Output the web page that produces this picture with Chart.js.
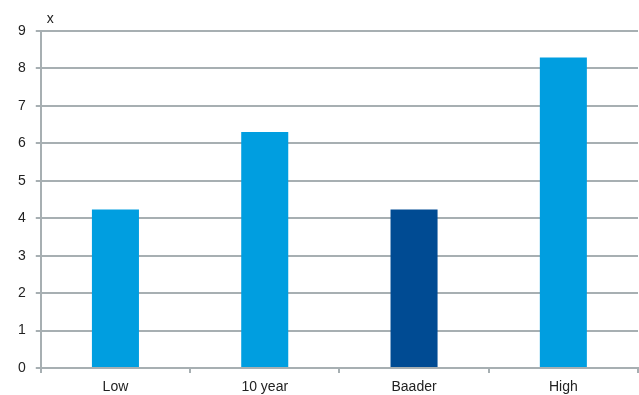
<!DOCTYPE html>
<html>
<head>
<meta charset="utf-8">
<script src="https://cdn.jsdelivr.net/npm/chart.js@4"></script>
<style>
  html, body { margin: 0; padding: 0; background: #fff; }
  #wrap { width: 639px; height: 395px; }
</style>
</head>
<body>
<div id="wrap"><canvas id="chart"></canvas></div>
<script>
'use strict';

var labels = ['Low', '10 year', 'Baader', 'High'];
var values = [4.23, 6.3, 4.23, 8.29];
var barColors = ['#009ee0', '#009ee0', '#004b93', '#009ee0'];
var yTicks = [0, 1, 2, 3, 4, 5, 6, 7, 8, 9];
var axisTitle = 'x';

var gridColor = '#a7afb2';

// small "x" above the value axis
var axisTitlePlugin = {
  id: 'axisTitle',
  afterDraw: function(chart) {
    var c = chart.ctx;
    var area = chart.chartArea;
    c.save();
    c.font = '14px "Liberation Sans", Arial, sans-serif';
    c.fillStyle = '#222';
    c.textAlign = 'left';
    c.textBaseline = 'middle';
    c.fillText(axisTitle, area.left + 6, area.top - 12);
    c.restore();
  }
};

var ctx = document.getElementById('chart').getContext('2d');

var chart = new Chart(ctx, {
  type: 'bar',
  data: {
    labels: labels,
    datasets: [{
      data: values,
      backgroundColor: barColors,
      borderWidth: 0,
      barPercentage: 0.315,
      categoryPercentage: 1
    }]
  },
  options: {
    responsive: true,
    maintainAspectRatio: false,
    animation: false,
    layout: {
      padding: { left: 8, right: 1, top: 31, bottom: -6 }
    },
    plugins: {
      legend: { display: false },
      tooltip: { enabled: false }
    },
    scales: {
      x: {
        grid: {
          offset: true,
          color: function(c) { return c.index === labels.length ? gridColor : 'rgba(0,0,0,0)'; },
          tickColor: gridColor,
          tickLength: 5,
          lineWidth: 2
        },
        border: { color: gridColor, width: 2 },
        ticks: {
          color: '#222',
          padding: 7,
          font: { family: '"Liberation Sans", Arial, sans-serif', size: 14, lineHeight: 1 }
        }
      },
      y: {
        min: 0,
        max: 9,
        afterBuildTicks: function(scale) {
          scale.ticks = yTicks.map(function(v) { return { value: v }; });
        },
        grid: {
          color: gridColor,
          tickColor: gridColor,
          tickLength: 5,
          lineWidth: 2
        },
        border: { color: gridColor, width: 2 },
        ticks: {
          color: '#222',
          padding: 10,
          font: { family: '"Liberation Sans", Arial, sans-serif', size: 14 }
        }
      }
    }
  },
  plugins: [axisTitlePlugin]
});
</script>
</body>
</html>
